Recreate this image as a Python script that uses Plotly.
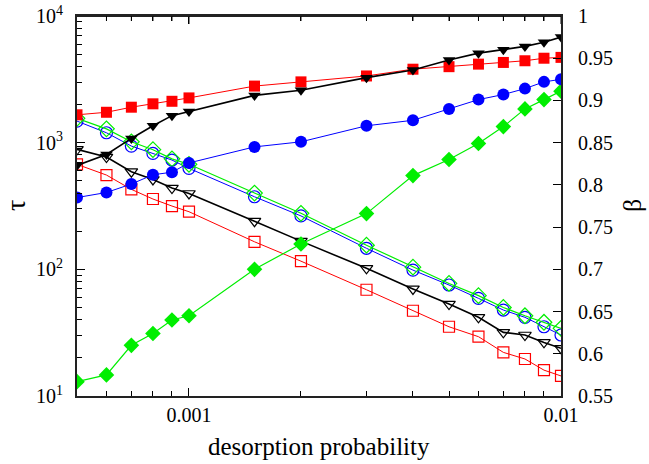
import plotly.graph_objects as go

# desorption probability
x = [0.0005, 0.0006, 0.0007, 0.0008, 0.0009, 0.001, 0.0015, 0.002,
     0.003, 0.004, 0.005, 0.006, 0.007, 0.008, 0.009, 0.01]

# tau (left axis, open symbols)
tau_green = [1556, 1285, 1016, 880, 745, 675, 400, 277, 155, 104, 77.4, 62, 50, 43, 38.2, 34.2]
tau_blue = [1480, 1197, 940, 822, 729, 627, 374, 264, 146.6, 98.6, 75.2, 59, 47.7, 41.8, 35.2, 30.3]
tau_black = [885, 770, 590, 512, 438, 397, 240, 167, 101.8, 70, 53.2, 41.8, 31.8, 30.3, 26.5, 23.8]
tau_red = [674, 555, 428, 359, 316, 285, 165, 116, 69, 47.1, 35.2, 29.4, 22.1, 19.6, 16, 14.4]

# beta (right axis, filled symbols)
beta_red = [0.883, 0.886, 0.892, 0.896, 0.899, 0.903, 0.917, 0.922, 0.929, 0.937, 0.940, 0.943, 0.945, 0.947, 0.950, 0.951]
beta_black = [0.823, 0.836, 0.855, 0.870, 0.882, 0.887, 0.906, 0.912, 0.927, 0.936, 0.948, 0.956, 0.960, 0.964, 0.969, 0.975]
beta_blue = [0.785, 0.791, 0.801, 0.812, 0.815, 0.826, 0.845, 0.851, 0.870, 0.8765, 0.890, 0.901, 0.907, 0.914, 0.922, 0.925]
beta_green = [0.567, 0.575, 0.610, 0.624, 0.640, 0.645, 0.700, 0.730, 0.766, 0.811, 0.830, 0.849, 0.869, 0.890, 0.901, 0.911]

# tick labels
x_tickvals = [0.001, 0.01]
x_ticktext = ["0.001", "0.01"]
x_minor = [0.0006, 0.0007, 0.0008, 0.0009, 0.002, 0.003, 0.004, 0.005, 0.006, 0.007, 0.008, 0.009]
tau_tickvals = [10, 100, 1000, 10000]
tau_ticktext = ["10<sup>1</sup>", "10<sup>2</sup>", "10<sup>3</sup>", "10<sup>4</sup>"]
tau_minor = [m * d for d in (10, 100, 1000) for m in range(2, 10)]
beta_tickvals = [0.55, 0.6, 0.65, 0.7, 0.75, 0.8, 0.85, 0.9, 0.95, 1.0]
beta_ticktext = ["0.55", "0.6", "0.65", "0.7", "0.75", "0.8", "0.85", "0.9", "0.95", "1"]

RED = "#ff0000"
BLUE = "#0000ff"
GREEN = "#00ee00"
BLACK = "#000000"
AXIS = "#222222"

fig = go.Figure()

open_series = [
    (tau_red, RED, "square-open", 11, 1),
    (tau_black, BLACK, "triangle-down-open", 11, 1.6),
    (tau_blue, BLUE, "circle-open", 12, 1),
    (tau_green, GREEN, "diamond-open", 12, 1.2),
]
for ys, col, sym, sz, lw in open_series:
    fig.add_trace(go.Scatter(x=x, y=ys, mode="lines+markers", yaxis="y",
                             line=dict(color=col, width=lw),
                             marker=dict(symbol=sym, size=sz, color=col, line=dict(width=1.2, color=col)),
                             showlegend=False))

filled_series = [
    (beta_green, GREEN, "diamond", 12, 1.2),
    (beta_blue, BLUE, "circle", 12, 1),
    (beta_red, RED, "square", 11, 1),
    (beta_black, BLACK, "triangle-down", 11, 1.6),
]
for ys, col, sym, sz, lw in filled_series:
    fig.add_trace(go.Scatter(x=x, y=ys, mode="lines+markers", yaxis="y2",
                             line=dict(color=col, width=lw),
                             marker=dict(symbol=sym, size=sz, color=col, line=dict(width=0)),
                             showlegend=False))

font = dict(family="Liberation Serif, Times New Roman, serif", size=20, color="black")

# top frame line and mirrored x ticks
shapes = [dict(type="line", xref="paper", yref="paper", x0=0, x1=1, y0=1, y1=1,
               line=dict(color=AXIS, width=2), layer="above")]
for v in x_minor:
    shapes.append(dict(type="line", xref="x", yref="paper", x0=v, x1=v, y0=1, y1=1 - 5 / 380,
                       line=dict(color="black", width=1), layer="above"))
for v in x_tickvals:
    shapes.append(dict(type="line", xref="x", yref="paper", x0=v, x1=v, y0=1, y1=1 - 8 / 380,
                       line=dict(color="black", width=1), layer="above"))

fig.update_layout(
    width=649, height=464,
    margin=dict(l=77, r=88, t=16, b=68),
    paper_bgcolor="white", plot_bgcolor="white",
    font=font,
    shapes=shapes,
    xaxis=dict(
        type="log", range=[-3.30103, -2.0], automargin=False,
        tickmode="array", tickvals=x_tickvals, ticktext=x_ticktext,
        ticks="inside", ticklen=8, tickwidth=1, tickcolor="black",
        minor=dict(tickmode="array", tickvals=x_minor, ticks="inside", ticklen=5, tickcolor="black", showgrid=False),
        showline=True, linecolor=AXIS, linewidth=2, mirror="ticks",
        showgrid=False, zeroline=False,
        ticklabelstandoff=0, ticklabeloverflow="allow",
    ),
    yaxis=dict(
        type="log", range=[1, 4], automargin=False,
        tickmode="array", tickvals=tau_tickvals, ticktext=tau_ticktext,
        ticks="inside", ticklen=8, tickwidth=1, tickcolor="black",
        minor=dict(tickmode="array", tickvals=tau_minor, ticks="inside", ticklen=5, tickcolor="black", showgrid=False),
        showline=True, linecolor=AXIS, linewidth=2,
        showgrid=False, zeroline=False,
        ticklabelstandoff=8, ticklabeloverflow="allow",
    ),
    yaxis2=dict(
        overlaying="y", side="right", range=[0.55, 1.0], automargin=False,
        tickmode="array", tickvals=beta_tickvals, ticktext=beta_ticktext,
        ticks="inside", ticklen=8, tickwidth=1, tickcolor="black",
        showline=True, linecolor=AXIS, linewidth=2,
        showgrid=False, zeroline=False,
        ticklabelstandoff=11, ticklabeloverflow="allow",
    ),
    annotations=[
        dict(text="desorption probability", xref="paper", yref="paper", x=0.5, y=-0.134,
             showarrow=False, font=dict(size=25), xanchor="center", yanchor="middle"),
        dict(text="τ", xref="paper", yref="paper", x=-0.128, y=0.5, textangle=-90,
             showarrow=False, font=dict(size=28), xanchor="center", yanchor="middle"),
        dict(text="β", xref="paper", yref="paper", x=1.1467, y=0.5, textangle=-90,
             showarrow=False, font=dict(size=26), xanchor="center", yanchor="middle"),
    ],
)

fig.write_html("out.html",
               config={"displayModeBar": False},
               post_script="document.body.style.margin='0px';document.body.style.overflow='hidden';")
